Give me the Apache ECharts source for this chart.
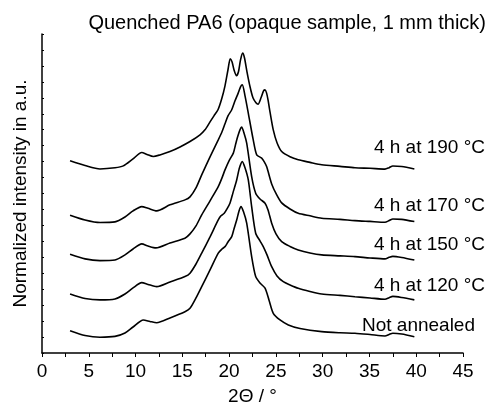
<!DOCTYPE html>
<html><head><meta charset="utf-8">
<script src="https://cdn.jsdelivr.net/npm/echarts@6/dist/echarts.min.js"></script>
<style>html,body{margin:0;padding:0;background:#fff}#c{width:494px;height:414px}</style>
</head><body><div id="c"></div>
<script>
var titleText = "Quenched PA6 (opaque sample, 1 mm thick)";
var xName = "2\u0398 / \u00b0";
var yName = "Normalized intensity in a.u.";
var seriesNames = ["4 h at 190 \u00b0C", "4 h at 170 \u00b0C", "4 h at 150 \u00b0C", "4 h at 120 \u00b0C", "Not annealed"];
var xTicks = [0, 5, 10, 15, 20, 25, 30, 35, 40, 45];

var x190 = [3.0, 4.6, 6.2, 7.8, 8.69, 9.73, 10.66, 11.22, 11.9, 12.61, 13.68, 14.75, 15.82, 16.89, 17.42, 17.96, 18.38, 18.81, 19.21, 19.56, 19.88, 20.12, 20.31, 20.52, 20.79, 21.0, 21.22, 21.45, 21.64, 21.91, 22.23, 22.55, 22.87, 23.09, 23.41, 23.68, 23.84, 24.0, 24.16, 24.37, 24.72, 25.12, 25.62, 26.51, 27.39, 28.64, 29.9, 31.85, 33.45, 35.06, 36.66, 37.1, 37.5, 38.45, 39.8];
var y190 = [12.06, 11.76, 11.54, 11.61, 11.73, 12.17, 12.57, 12.45, 12.32, 12.42, 12.63, 12.92, 13.26, 13.68, 13.99, 14.49, 14.87, 15.25, 15.94, 16.75, 17.76, 18.45, 18.26, 17.76, 17.38, 17.63, 18.38, 18.80, 18.51, 17.63, 16.71, 16.00, 15.69, 15.60, 16.00, 16.44, 16.50, 16.31, 15.87, 15.12, 13.99, 13.18, 12.63, 12.30, 12.11, 11.95, 11.80, 11.70, 11.61, 11.58, 11.53, 11.62, 11.72, 11.69, 11.54];

var x170 = [3.0, 4.6, 6.2, 7.8, 8.87, 9.73, 10.66, 11.33, 12.26, 13.68, 15.28, 15.82, 16.46, 17.07, 17.96, 18.84, 19.24, 19.56, 19.88, 20.28, 20.63, 20.98, 21.22, 21.41, 21.70, 22.05, 22.58, 22.95, 23.48, 23.76, 24.02, 24.55, 25.09, 25.62, 26.51, 27.39, 28.64, 29.90, 31.85, 33.45, 35.06, 36.66, 37.1, 37.5, 38.45, 39.8];
var y170 = [8.64, 8.34, 8.18, 8.22, 8.53, 8.91, 9.18, 9.07, 8.91, 9.29, 9.60, 9.79, 10.35, 11.17, 12.30, 13.36, 13.87, 14.37, 14.87, 15.25, 15.81, 16.31, 16.69, 16.81, 16.12, 15.04, 13.36, 12.42, 12.22, 11.98, 11.67, 10.60, 9.91, 9.41, 9.03, 8.76, 8.60, 8.45, 8.38, 8.30, 8.25, 8.20, 8.30, 8.40, 8.38, 8.24];

var x150 = [3.0, 4.6, 6.2, 7.8, 8.87, 9.73, 10.66, 11.33, 12.18, 13.68, 15.28, 15.82, 16.46, 17.07, 17.96, 18.84, 19.24, 19.56, 19.99, 20.45, 20.68, 20.92, 21.16, 21.34, 21.59, 21.88, 22.41, 22.84, 23.30, 23.84, 24.16, 24.55, 25.01, 25.62, 26.51, 27.39, 28.64, 29.90, 31.85, 33.45, 35.06, 36.66, 37.1, 37.5, 38.45, 39.8];
var y150 = [6.19, 5.90, 5.79, 5.83, 6.15, 6.52, 6.84, 6.71, 6.59, 6.90, 7.20, 7.47, 7.97, 8.66, 9.54, 10.43, 10.98, 11.48, 12.05, 12.53, 13.05, 13.57, 13.99, 14.16, 13.80, 13.16, 11.06, 10.02, 9.66, 9.39, 8.97, 8.14, 7.47, 6.98, 6.68, 6.46, 6.27, 6.15, 6.09, 6.04, 5.96, 5.90, 6.00, 6.06, 5.99, 5.83];

var x120 = [3.0, 4.6, 6.2, 7.8, 8.87, 9.73, 10.66, 11.33, 12.26, 13.68, 15.28, 15.82, 16.46, 17.07, 17.96, 18.84, 19.13, 19.48, 19.77, 20.09, 20.41, 20.81, 21.11, 21.41, 21.70, 22.05, 22.41, 22.84, 23.30, 23.65, 24.05, 24.55, 25.12, 25.79, 26.51, 27.39, 28.64, 29.90, 31.85, 33.45, 35.06, 36.66, 37.1, 37.5, 38.45, 39.8];
var y120 = [3.70, 3.42, 3.33, 3.39, 3.70, 4.08, 4.41, 4.30, 4.16, 4.45, 4.79, 5.00, 5.58, 6.26, 7.28, 8.34, 8.60, 8.76, 9.03, 9.39, 10.04, 10.85, 11.61, 12.00, 11.61, 10.85, 9.18, 7.51, 7.03, 6.67, 6.15, 5.41, 4.83, 4.47, 4.27, 4.06, 3.86, 3.70, 3.61, 3.53, 3.45, 3.37, 3.47, 3.55, 3.48, 3.33];

var xNA = [3.0, 4.6, 6.2, 7.8, 8.87, 9.73, 10.83, 11.54, 12.26, 13.68, 15.28, 15.82, 16.46, 17.07, 17.96, 18.84, 19.24, 19.56, 19.88, 20.28, 20.52, 20.81, 21.06, 21.27, 21.54, 21.88, 22.41, 22.84, 23.30, 23.84, 24.26, 24.72, 25.44, 26.33, 27.58, 29.90, 31.85, 33.45, 35.06, 36.66, 37.1, 37.5, 38.45, 39.8];
var yNA = [1.40, 1.10, 0.99, 1.04, 1.25, 1.63, 2.07, 1.98, 1.90, 2.20, 2.59, 2.80, 3.45, 4.16, 5.21, 6.26, 6.52, 6.67, 6.96, 7.30, 7.78, 8.34, 8.91, 9.18, 8.85, 8.14, 6.04, 4.79, 4.39, 4.06, 3.33, 2.49, 2.07, 1.76, 1.54, 1.34, 1.27, 1.24, 1.16, 1.07, 1.16, 1.24, 1.19, 1.02];

var xs = [x190, x170, x150, x120, xNA];
var ys = [y190, y170, y150, y120, yNA];

function pairs(a, b) { var r = []; for (var i = 0; i < a.length; i++) r.push([a[i], b[i]]); return r; }

var FONT = "'Liberation Sans', Arial, sans-serif";
var chart = echarts.init(document.getElementById('c'), null, {renderer: 'canvas'});
var labelPos = [[485, 148], [485, 206], [485, 245], [485, 286], [475, 325.5]];
var graphics = seriesNames.map(function (n, i) {
  return {type: 'text', x: labelPos[i][0], y: labelPos[i][1], z: 10,
    style: {text: n, textAlign: 'right', textVerticalAlign: 'middle', fill: '#000', font: '19px ' + FONT}};
});
chart.setOption({
  animation: false,
  backgroundColor: '#fff',
  title: {text: titleText, right: 3, top: 8, textStyle: {fontFamily: FONT, fontSize: 20, fontWeight: 'normal', color: '#000'}},
  grid: {left: 42, right: 31, top: 34, bottom: 61},
  xAxis: {type: 'value', min: 0, max: 45, interval: 5,
    name: xName, nameLocation: 'middle', nameGap: 34,
    nameTextStyle: {fontFamily: FONT, fontSize: 19, color: '#000'},
    axisLine: {show: true, onZero: false, lineStyle: {color: '#000', width: 1.5}},
    axisTick: {show: true, inside: false, length: 4, lineStyle: {color: '#000', width: 1}},
    minorTick: {show: true, splitNumber: 2, length: 4, lineStyle: {color: '#000', width: 1}},
    axisLabel: {margin: 9, fontFamily: FONT, fontSize: 19, color: '#000',
      formatter: function (v) { return xTicks.indexOf(v) >= 0 ? String(v) : ''; }},
    splitLine: {show: false}},
  yAxis: {type: 'value', min: 0, max: 20, interval: 1,
    name: yName, nameLocation: 'middle', nameGap: 12,
    nameTextStyle: {fontFamily: FONT, fontSize: 19, color: '#000'},
    axisLine: {show: true, onZero: false, lineStyle: {color: '#000', width: 1.5}},
    axisTick: {show: true, inside: true, length: 2, lineStyle: {color: '#000', width: 1}},
    axisLabel: {show: false},
    splitLine: {show: false}},
  series: seriesNames.map(function (n, i) {
    return {name: n, type: 'line', data: pairs(xs[i], ys[i]), showSymbol: false, smooth: 0.25,
      lineStyle: {color: '#000', width: 1.6}, z: 2};
  }),
  graphic: graphics
});
</script></body></html>
